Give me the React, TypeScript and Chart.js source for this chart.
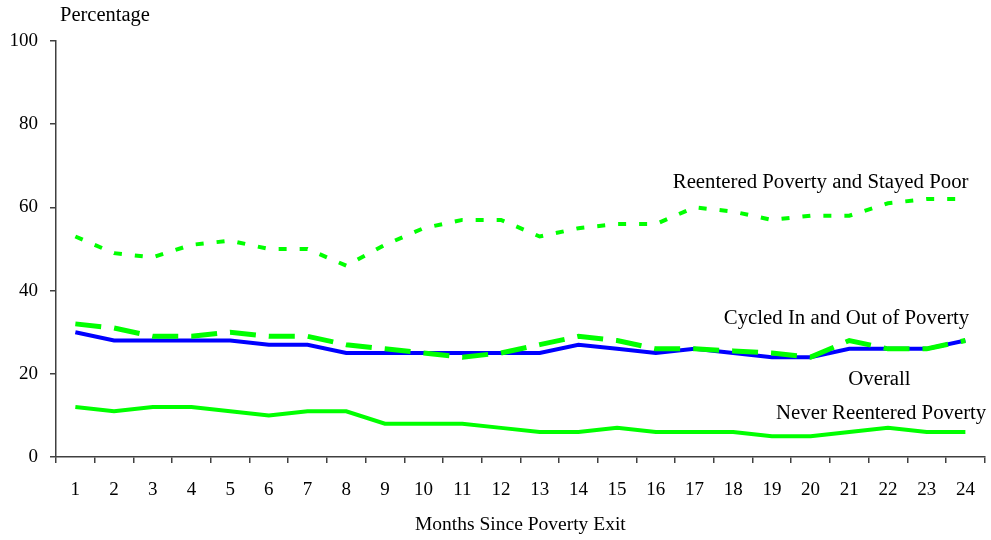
import React, { useEffect, useRef } from 'react';
import { Chart, registerables } from 'chart.js';

Chart.register(...registerables);

const months = ['1', '2', '3', '4', '5', '6', '7', '8', '9', '10', '11', '12', '13', '14', '15', '16', '17', '18', '19', '20', '21', '22', '23', '24'];
const stayedPoor = [53, 49, 48, 51, 52, 50, 50, 46, 51, 55, 57, 57, 53, 55, 56, 56, 60, 59, 57, 58, 58, 61, 62, 62];
const cycled = [32, 31, 29, 29, 30, 29, 29, 27, 26, 25, 24, 25, 27, 29, 28, 26, 26, 25.5, 25, 24, 28, 26, 26, 28];
const overall = [30, 28, 28, 28, 28, 27, 27, 25, 25, 25, 25, 25, 25, 27, 26, 25, 26, 25, 24, 24, 26, 26, 26, 28];
const never = [12, 11, 12, 12, 11, 10, 11, 11, 8, 8, 8, 7, 6, 6, 7, 6, 6, 6, 5, 5, 6, 7, 6, 6];

const yTicks = [0, 20, 40, 60, 80, 100];
const yTitle = 'Percentage';
const xTitle = 'Months Since Poverty Exit';

// Series label annotations: [text, category index, value, alignment]
const seriesLabels: [string, number, number, CanvasTextAlign][] = [
  ['Reentered Poverty and Stayed Poor', 23.08, 66, 'right'],
  ['Cycled In and Out of Poverty', 23.1, 33.4, 'right'],
  ['Overall', 20.78, 18.6, 'center'],
  ['Never Reentered Poverty', 23.54, 10.4, 'right'],
];

const FONT = "'Liberation Serif', 'Times New Roman', serif";
const AXIS = '#404040';

export default function App() {
  const ref = useRef<HTMLCanvasElement | null>(null);

  useEffect(() => {
    if (!ref.current) return;
    const textPlugin = {
      id: 'textPlugin',
      afterDraw(chart: any) {
        const { ctx, chartArea, scales } = chart;
        ctx.save();
        ctx.fillStyle = '#000';
        ctx.font = `20.8px ${FONT}`;
        ctx.textBaseline = 'middle';
        for (const [t, xi, v, align] of seriesLabels) {
          ctx.textAlign = align;
          ctx.fillText(t, scales.x.getPixelForValue(xi), scales.y.getPixelForValue(v));
        }
        ctx.font = `20.5px ${FONT}`;
        ctx.textAlign = 'left';
        ctx.fillText(yTitle, chartArea.left + 4, 16);
        ctx.font = `19.5px ${FONT}`;
        ctx.textAlign = 'center';
        ctx.fillText(xTitle, (chartArea.left + chartArea.right) / 2, chart.height - 15);
        ctx.restore();
      },
    };

    const chart = new Chart(ref.current, {
      type: 'line',
      data: {
        labels: months,
        datasets: [
          {
            label: 'Reentered Poverty and Stayed Poor',
            data: stayedPoor,
            borderColor: '#00ff00',
            borderWidth: 4,
            borderDash: [8, 13],
            pointRadius: 0,
            tension: 0,
          },
          {
            label: 'Cycled In and Out of Poverty',
            data: cycled,
            borderColor: '#00ff00',
            borderWidth: 5,
            borderDash: [26, 13],
            pointRadius: 0,
            tension: 0,
          },
          {
            label: 'Overall',
            data: overall,
            borderColor: '#0000ff',
            borderWidth: 4,
            pointRadius: 0,
            tension: 0,
          },
          {
            label: 'Never Reentered Poverty',
            data: never,
            borderColor: '#00ff00',
            borderWidth: 4,
            pointRadius: 0,
            tension: 0,
          },
        ],
      },
      options: {
        animation: false,
        responsive: false,
        maintainAspectRatio: false,
        layout: { padding: { top: 41, right: 6, left: 0, bottom: 0 } },
        plugins: { legend: { display: false }, tooltip: { enabled: false } },
        scales: {
          x: {
            type: 'category',
            offset: true,
            grid: { drawOnChartArea: false, drawTicks: true, tickLength: 6, color: AXIS, lineWidth: 1.5, offset: true },
            border: { color: AXIS, width: 1.5 },
            ticks: { color: '#000', font: { family: FONT, size: 19 }, padding: 16, maxRotation: 0, autoSkip: false },
            afterFit(scale: any) { scale.height = 83; },
          },
          y: {
            min: 0,
            max: 100,
            afterBuildTicks(scale: any) { scale.ticks = yTicks.map((v) => ({ value: v })); },
            grid: { drawOnChartArea: false, drawTicks: true, tickLength: 6, color: AXIS, lineWidth: 1.5 },
            border: { color: AXIS, width: 1.5 },
            ticks: { color: '#000', font: { family: FONT, size: 19 }, padding: 12 },
            afterFit(scale: any) { scale.width = 56; },
          },
        },
      },
      plugins: [textPlugin],
    });
    return () => chart.destroy();
  }, []);

  return (
    <div style={{ position: 'fixed', left: 0, top: 0, width: 991, height: 540, background: '#fff' }}>
      <canvas ref={ref} width={991} height={540} style={{ width: 991, height: 540 }} />
    </div>
  );
}
